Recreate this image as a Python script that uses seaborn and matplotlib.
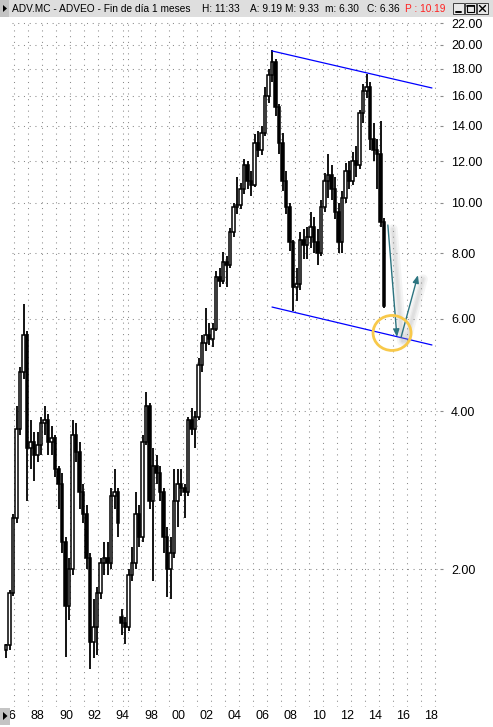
import numpy as np
import matplotlib
matplotlib.use("Agg")
import matplotlib.pyplot as plt
import matplotlib.transforms as mtransforms
from matplotlib.patches import Rectangle, Ellipse, Polygon
from matplotlib.ticker import FixedLocator, FixedFormatter, NullLocator
import seaborn as sns

# Quarterly candles for ADV.MC (last bar is the current month)
opens = [1.40, 1.43, 1.80, 2.50, 3.70, 4.75, 5.60, 3.40, 3.50, 3.30,
         3.45, 3.80, 3.85, 3.50, 3.55, 3.10, 2.90, 2.25, 1.70, 2.00,
         3.60, 3.35, 2.80, 2.55, 2.10, 1.45, 1.55, 1.80, 2.05, 2.10,
         2.05, 2.75, 2.80, 1.62, 1.58, 1.55, 1.95, 2.05, 2.55, 2.30,
         3.50, 4.10, 2.70, 3.15, 3.05, 2.80, 2.30, 2.00, 2.15, 2.70,
         2.90, 2.85, 2.80, 3.85, 3.70, 3.90, 4.90, 5.40, 5.60, 5.50,
         5.75, 7.20, 7.10, 7.70, 7.60, 8.80, 9.80, 9.90, 10.6, 11.8,
         11.0, 10.8, 13.0, 12.6, 13.6, 16.0, 17.5, 18.5, 15.2, 13.0,
         11.0, 9.80, 8.40, 6.90, 7.00, 8.50, 8.30, 8.60, 9.00, 8.40,
         8.00, 9.80, 11.0, 11.3, 10.6, 9.60, 8.40, 10.2, 11.5, 11.0,
         12.0, 11.8, 14.8, 16.3, 16.6, 13.2, 12.6, 12.4, 9.19]
highs = [1.44, 1.82, 2.55, 4.10, 4.85, 6.40, 5.70, 3.85, 3.65, 3.65,
         3.90, 4.10, 3.95, 3.75, 3.60, 3.15, 3.05, 2.30, 2.10, 3.85,
         3.80, 3.50, 2.90, 2.65, 2.15, 1.75, 1.85, 2.10, 2.25, 2.25,
         2.85, 3.10, 2.85, 1.68, 1.62, 2.00, 2.20, 2.80, 2.65, 3.60,
         4.35, 4.15, 3.40, 3.30, 3.15, 2.85, 2.40, 2.30, 3.10, 3.10,
         3.10, 2.90, 3.90, 4.05, 4.00, 5.05, 5.60, 6.30, 5.90, 5.90,
         7.40, 7.50, 8.05, 7.90, 8.95, 10.0, 11.2, 10.9, 12.1, 12.0,
         11.5, 13.5, 13.7, 14.0, 16.6, 18.0, 19.5, 18.8, 15.4, 13.6,
         11.5, 10.0, 8.50, 7.50, 8.80, 8.90, 9.00, 9.60, 9.40, 8.90,
         10.1, 11.4, 12.4, 11.8, 11.2, 10.0, 10.5, 11.9, 12.0, 12.5,
         12.8, 15.0, 16.8, 17.6, 17.0, 14.2, 13.2, 14.3, 9.33]
lows = [1.35, 1.40, 1.78, 2.45, 3.60, 4.60, 2.70, 3.10, 2.95, 3.20,
        3.30, 3.60, 3.30, 3.30, 3.00, 2.60, 2.15, 1.36, 1.60, 1.95,
        3.20, 2.60, 2.45, 2.00, 1.29, 1.35, 1.37, 1.75, 1.95, 1.95,
        2.00, 2.60, 2.30, 1.50, 1.44, 1.52, 1.90, 2.00, 2.20, 2.25,
        3.45, 2.60, 1.90, 2.90, 2.70, 2.15, 1.77, 1.75, 2.10, 2.40,
        2.75, 2.50, 2.75, 3.60, 3.40, 3.85, 4.75, 5.20, 5.35, 5.30,
        5.70, 6.90, 7.00, 6.90, 7.50, 8.60, 9.50, 9.70, 10.4, 10.6,
        10.3, 10.7, 12.2, 12.3, 13.4, 15.5, 17.0, 14.6, 12.4, 10.5,
        9.50, 8.10, 6.20, 6.50, 6.80, 7.80, 7.80, 8.20, 8.00, 7.60,
        7.90, 9.60, 10.2, 10.1, 9.30, 8.00, 8.00, 10.0, 10.6, 10.8,
        11.2, 11.6, 14.2, 15.8, 12.6, 12.0, 10.6, 9.00, 6.30]
closes = [1.43, 1.80, 2.50, 3.70, 4.75, 5.60, 3.40, 3.50, 3.30, 3.45,
          3.80, 3.85, 3.50, 3.55, 3.10, 2.90, 2.25, 1.70, 2.00, 3.60,
          3.35, 2.80, 2.55, 2.10, 1.45, 1.55, 1.80, 2.05, 2.10, 2.05,
          2.75, 2.80, 2.45, 1.58, 1.55, 1.95, 2.05, 2.55, 2.30, 3.50,
          4.10, 2.70, 3.15, 3.05, 2.80, 2.30, 2.00, 2.15, 2.70, 2.90,
          2.85, 2.80, 3.85, 3.70, 3.90, 4.90, 5.40, 5.60, 5.50, 5.75,
          7.20, 7.10, 7.70, 7.60, 8.80, 9.80, 9.90, 10.6, 11.8, 11.0,
          10.8, 13.0, 12.6, 13.6, 16.0, 17.5, 18.5, 15.2, 13.0, 11.0,
          9.80, 8.40, 6.90, 7.00, 8.50, 8.30, 8.60, 9.00, 8.40, 8.00,
          9.80, 11.0, 11.3, 10.6, 9.60, 8.40, 10.2, 11.5, 11.0, 12.0,
          11.8, 14.8, 16.3, 16.6, 13.2, 12.6, 12.4, 9.19, 6.36]

# Axis labels
price_ticks = [2, 4, 6, 8, 10, 12, 14, 16, 18, 20, 22]
year_labels = ["86", "88", "90", "92", "94", "98", "00", "02", "04", "06",
               "08", "10", "12", "14", "16", "18"]
label_years = [1986, 1988, 1990, 1992, 1994, 1998, 2000, 2002, 2004, 2006,
               2008, 2010, 2012, 2014, 2016, 2018]

# Hand-drawn channel and projection (bar position, price)
upper_x, upper_y = [76.0, 121.7], [19.46, 16.54]
lower_x, lower_y = [76.0, 121.7], [6.32, 5.35]
drop_x, drop_y = [109.1, 111.7], [9.06, 5.54]
rebound_x, rebound_y = [112.9, 117.7], [5.54, 7.27]
target_x, target_y = 110.3, 5.64

BARS_PER_YEAR = 4
FIRST_BAR_YEAR = 1986.43   # time of bar 0
RESTART_POS = 38.57        # bar position of 1 Jan 1998 after the data gap


def year_pos(y):
    if y < 1996:
        return (y - FIRST_BAR_YEAR) * BARS_PER_YEAR
    return RESTART_POS + (y - 1998) * BARS_PER_YEAR


sns.set_style("white")
plt.rcParams["font.family"] = ["Liberation Sans", "DejaVu Sans"]

W, H = 493, 727
fig = plt.figure(figsize=(W / 100, H / 100), dpi=100)
fig.patch.set_facecolor("white")
ax = fig.add_axes([0, 1 - 707 / H, 440 / W, 690 / H])
ax.set_yscale("log")
ax.set_xlim(-6 / 3.5, 434 / 3.5)
ax.set_ylim(1.091, 22.59)
for s in ax.spines.values():
    s.set_visible(False)

o = np.array(opens)
hi = np.array(highs)
lo = np.array(lows)
c = np.array(closes)
x = np.arange(len(c))
up = c >= o
body_lo = np.minimum(o, c)
body_h = np.maximum(np.abs(c - o), 0.01)

# grid
grid_kw = dict(color="#8a8a8a", lw=0.75, linestyle=(0, (1, 4.5)), zorder=0)
for v in price_ticks:
    ax.axhline(v, xmin=12 / 440, xmax=1, **grid_kw)
vgrid = [year_pos(y) for y in range(1987, 1995)] + [33.43, 34.86] + \
        [year_pos(y) for y in range(1998, 2020)]
for g in vgrid:
    ax.axvline(g, ymin=0, ymax=(707 - 20) / 690, **grid_kw)

# candles
ax.vlines(x, lo, hi, color="black", lw=1.3, zorder=2)
ax.bar(x[up], body_h[up], bottom=body_lo[up], width=0.72, facecolor="white",
       edgecolor="black", linewidth=1.1, zorder=3)
ax.bar(x[~up], body_h[~up], bottom=body_lo[~up], width=0.72, facecolor="black",
       edgecolor="black", linewidth=1.1, zorder=3)

# channel lines
sns.lineplot(x=upper_x, y=upper_y, color="#0000ff", lw=0.9, ax=ax, zorder=4)
sns.lineplot(x=lower_x, y=lower_y, color="#0000ff", lw=0.9, ax=ax, zorder=4)

# projected path with soft shadow
shadow = mtransforms.offset_copy(ax.transData, fig=fig, x=5, y=-4, units="dots")
for px, py in ((drop_x, drop_y), (rebound_x, rebound_y)):
    for lw, a in ((7, 0.10), (4, 0.12), (2, 0.12)):
        ax.plot(px, py, color="#9a9a9a", lw=lw, alpha=a, transform=shadow,
                solid_capstyle="round", zorder=4)
teal = "#2c7480"
for px, py in ((drop_x, drop_y), (rebound_x, rebound_y)):
    ax.annotate("", xy=(px[1], py[1]), xytext=(px[0], py[0]),
                arrowprops=dict(arrowstyle="-|>,head_length=0.45,head_width=0.18",
                                color=teal, lw=1.0, shrinkA=0, shrinkB=0),
                zorder=5)

# target circle (round in screen space)
cx, cy = ax.transAxes.inverted().transform(ax.transData.transform((target_x, target_y)))
ax.add_patch(Ellipse((cx, cy), 38 / 440, 35 / 690, transform=ax.transAxes,
                     facecolor="none", edgecolor="#f8c94a", lw=2.0, zorder=6))

# price axis on the right
ax.yaxis.tick_right()
ax.yaxis.set_major_locator(FixedLocator(price_ticks))
ax.yaxis.set_major_formatter(FixedFormatter([f"{v:.2f}" for v in price_ticks]))
ax.yaxis.set_minor_locator(NullLocator())
ax.tick_params(axis="y", which="major", length=2, width=0.8, color="#8a8a8a",
               pad=6, labelsize=9, labelcolor="black", right=True, left=False)
ax.set_xticks([])
ax.set_ylabel("")

# year labels
lab_tr = mtransforms.offset_copy(
    mtransforms.blended_transform_factory(ax.transData, ax.transAxes),
    fig=fig, x=3, y=0, units="dots")
for yr, lab in zip(label_years, year_labels):
    ax.text(year_pos(yr), -9 / 690, lab, transform=lab_tr, ha="left",
            va="center", fontsize=9, color="black", clip_on=False)


def fx(px):
    return px / W


def fy(py):
    return 1 - py / H


# title bar
fig.add_artist(Rectangle((0, fy(17)), 1, 17 / H, transform=fig.transFigure,
                         facecolor="#dedede", edgecolor="none", zorder=10))
fig.add_artist(Rectangle((0, fy(17)), fx(9), 17 / H, transform=fig.transFigure,
                         facecolor="#c4c4c4", edgecolor="none", zorder=11))
fig.add_artist(Polygon([(fx(3), fy(5)), (fx(3), fy(12)), (fx(7), fy(8.5))],
                       closed=True, transform=fig.transFigure,
                       facecolor="black", edgecolor="none", zorder=12))
title_parts = [(12.5, "ADV.MC - ADVEO - Fin de día 1 meses", "black"),
               (202, "H: 11:33", "black"),
               (250, "A: 9.19", "black"),
               (285, "M: 9.33", "black"),
               (325, "m: 6.30", "black"),
               (367, "C: 6.36", "black"),
               (405, "P : 10.19", "#ff2020")]
for px, txt, col in title_parts:
    fig.text(fx(px), fy(8.5), txt, ha="left", va="center", fontsize=7.3,
             color=col, zorder=12)

# window buttons
for bx in (453, 465, 477):
    fig.add_artist(Rectangle((fx(bx), fy(14)), fx(11), 11 / H,
                             transform=fig.transFigure, facecolor="#e8e8e8",
                             edgecolor="#404040", lw=0.7, zorder=12))
fig.add_artist(plt.Line2D([fx(456), fx(461)], [fy(11.5), fy(11.5)],
                          transform=fig.transFigure, color="black", lw=1.4, zorder=13))
fig.add_artist(Rectangle((fx(467), fy(12)), fx(7), 7 / H, transform=fig.transFigure,
                         facecolor="none", edgecolor="black", lw=0.8, zorder=13))
fig.add_artist(plt.Line2D([fx(467), fx(474)], [fy(5.5), fy(5.5)],
                          transform=fig.transFigure, color="black", lw=1.2, zorder=13))
fig.add_artist(plt.Line2D([fx(479.5), fx(485.5)], [fy(5.5), fy(11.5)],
                          transform=fig.transFigure, color="black", lw=1.0, zorder=13))
fig.add_artist(plt.Line2D([fx(479.5), fx(485.5)], [fy(11.5), fy(5.5)],
                          transform=fig.transFigure, color="black", lw=1.0, zorder=13))

# bottom-left scroll box
fig.add_artist(Rectangle((0, fy(725)), fx(10), 17 / H, transform=fig.transFigure,
                         facecolor="#c4c4c4", edgecolor="none", zorder=10))
fig.add_artist(Polygon([(fx(3), fy(712)), (fx(3), fy(720)), (fx(7.5), fy(716))],
                       closed=True, transform=fig.transFigure,
                       facecolor="black", edgecolor="none", zorder=11))

fig.savefig("out.png", dpi=100)
